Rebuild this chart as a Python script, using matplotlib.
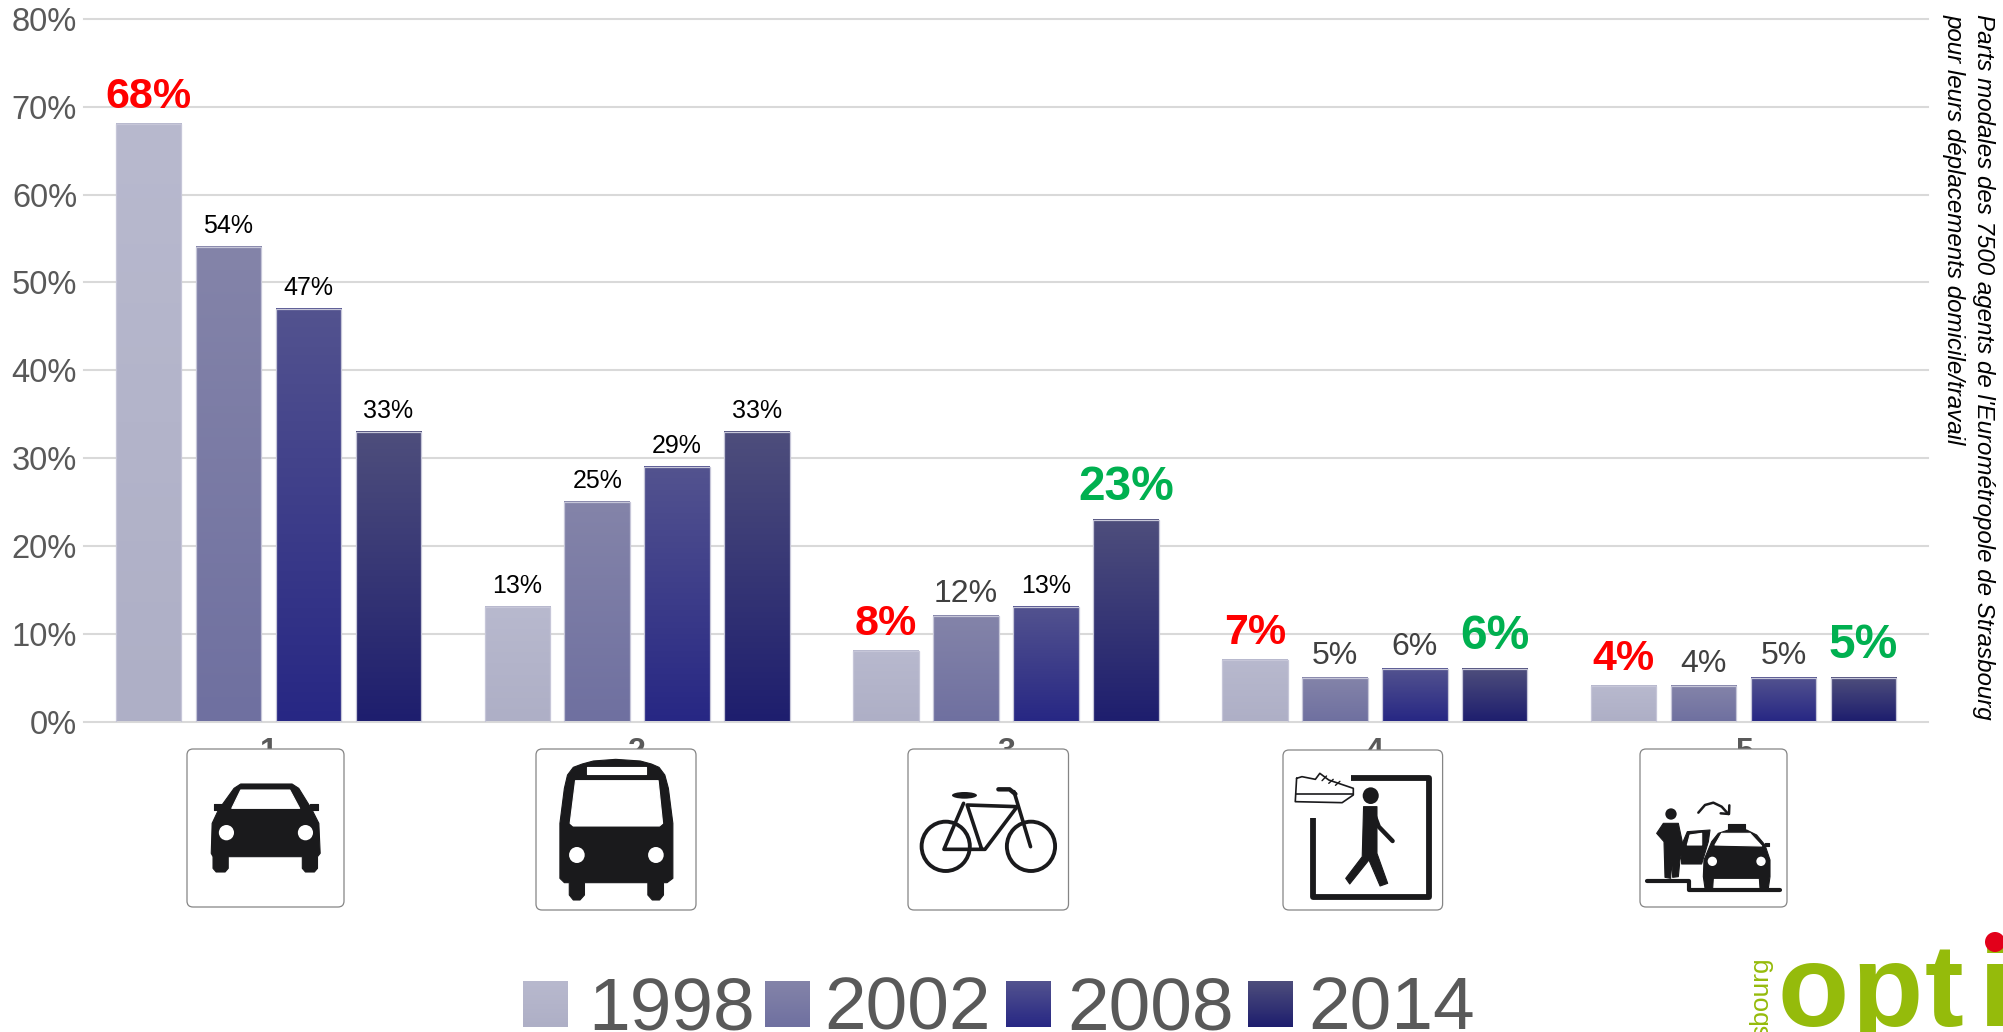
import matplotlib
matplotlib.use('Agg')
import matplotlib.pyplot as plt
import numpy as np
from matplotlib.colors import LinearSegmentedColormap
from matplotlib.patches import Polygon, Ellipse, FancyBboxPatch
from matplotlib.transforms import Affine2D

plt.rcParams['font.family'] = ['Liberation Sans', 'DejaVu Sans']

# data
categories = ['1', '2', '3', '4', '5']
years = ['1998', '2002', '2008', '2014']
v1998 = [68, 13, 8, 7, 4]
v2002 = [54, 25, 12, 5, 4]
v2008 = [47, 29, 13, 6, 5]
v2014 = [33, 33, 23, 6, 5]
series = [v1998, v2002, v2008, v2014]

# gradients top to bottom for each year
gradients = [
    ['#b8b9ce', '#aeafc6'],
    ['#8484a9', '#6f70a0'],
    ['#53538f', '#272784'],
    ['#4e4e7c', '#1e1e6e'],
]

# label style by (series, category): 's' small black, 'g' gray, 'r' red, 'v' green
label_styles = [
    ['r', 's', 'r', 'r', 'r'],
    ['s', 's', 'g', 'g', 'g'],
    ['s', 's', 's', 'g', 'g'],
    ['s', 's', 'v', 'v', 'v'],
]
styles = {
    's': dict(color='black', fontsize=18),
    'g': dict(color='#404040', fontsize=23),
    'r': dict(color='#ff0000', fontsize=31, fontweight='bold'),
    'v': dict(color='#00b050', fontsize=34.5, fontweight='bold'),
}
offsets = {'s': 14, 'g': 14, 'r': 16, 'v': 20}

W, H = 2003, 1032
fig = plt.figure(figsize=(W / 100, H / 100), dpi=100, facecolor='white')
ax = fig.add_axes([84 / W, 1 - 721.5 / H, (1928 - 84) / W, (721.5 - 19) / H])

x = np.arange(len(categories))
pitch = 80 / 369
width = 65.5 / 369


def grad_cmap(cols):
    return LinearSegmentedColormap.from_list('g', cols)


ramp = np.linspace(1, 0, 256).reshape(-1, 1)

for i, vals in enumerate(series):
    bars = ax.bar(x + (i - 1.5) * pitch, vals, width, facecolor='none',
                  edgecolor='#c6c6d8', linewidth=0.9, zorder=4)
    for b in bars:
        ax.imshow(ramp, cmap=grad_cmap([gradients[i][1], gradients[i][0]]), aspect='auto', zorder=3,
                  extent=[b.get_x(), b.get_x() + b.get_width(), 0, b.get_height()], vmin=0, vmax=1,
                  interpolation='nearest')
    for j, b in enumerate(bars):
        key = label_styles[i][j]
        ax.annotate(f'{vals[j]}%', (b.get_x() + b.get_width() / 2, vals[j]), xytext=(0, offsets[key] * 0.72),
                    textcoords='offset points', ha='center', va='baseline', zorder=5, **styles[key])

ax.set_xlim(-0.5, 4.5)
ax.set_ylim(0, 80)
ax.set_yticks(range(0, 81, 10))
ax.set_yticklabels([f'{t}%' for t in range(0, 81, 10)], fontsize=23.5, color='#595959')
ax.set_xticks(x)
ax.set_xticklabels(categories, fontsize=23, fontweight='bold', color='#595959')
ax.tick_params(axis='both', length=0)
ax.tick_params(axis='y', pad=5)
ax.tick_params(axis='x', pad=11)
ax.grid(axis='y', color='#d9d9d9', linewidth=1.5, clip_on=False)
ax.set_axisbelow(True)
for s in ax.spines.values():
    s.set_visible(False)
for gl in ax.get_ygridlines():
    gl.set_clip_on(False)

# overlay in pixel coords for pictograms, legend and logo
ov = fig.add_axes([0, 0, 1, 1], zorder=10)
ov.set_xlim(0, W)
ov.set_ylim(H, 0)
ov.axis('off')
ov.patch.set_alpha(0)

INK = '#1a1a1c'
t_a = Affine2D().scale(1 / 2.24, 1 / 3).translate(80, 660) + ov.transData
t_b = Affine2D().scale(1 / 2.24, 1 / 3).translate(860, 660) + ov.transData
t_c = Affine2D().scale(1 / 3, 1 / 3).translate(1600, 660) + ov.transData


def box(x0, y0, x1, y1):
    ov.add_patch(FancyBboxPatch((x0, y0), x1 - x0, y1 - y0, boxstyle='round,pad=0,rounding_size=6',
                                fc='white', ec='#858585', lw=0.9, zorder=2))


def poly(pts, tr, fc=INK, z=3):
    ov.add_patch(Polygon(pts, closed=True, fc=fc, ec=fc, lw=0.8, joinstyle='round', transform=tr, zorder=z))


def ell(cx, cy, w, h, tr, fc='white', ec='none', lw=0, z=4):
    ov.add_patch(Ellipse((cx, cy), w, h, fc=fc, ec=ec, lw=lw, transform=tr, zorder=z))


def line(pts, tr, lw=2.2, color=INK, z=3, cap='round'):
    p = np.array(pts)
    ov.plot(p[:, 0], p[:, 1], color=color, lw=lw, transform=tr, zorder=z, solid_capstyle=cap,
            solid_joinstyle='round')


# car
box(187, 749, 344, 907)
poly([(360, 372), (475, 372), (490, 385), (520, 450), (535, 490), (538, 580), (532, 590), (532, 625), (525, 636),
      (505, 636), (498, 625), (498, 590), (332, 590), (332, 625), (325, 636), (305, 636), (298, 625), (298, 590),
      (294, 580), (296, 490), (310, 450), (345, 385)], t_a)
poly([(340, 445), (360, 390), (470, 390), (492, 445)], t_a, 'white', 4)
poly([(300, 432), (318, 432), (318, 450), (300, 450)], t_a)
poly([(515, 432), (533, 432), (533, 450), (515, 450)], t_a)
ell(328, 518, 34, 46, t_a)
ell(505, 518, 34, 46, t_a)

# bus
box(536, 749, 696, 910)
poly([(1075, 490), (1085, 385), (1092, 345), (1105, 322), (1125, 312), (1150, 303), (1200, 298), (1255, 303),
      (1280, 312), (1297, 322), (1310, 345), (1318, 385), (1328, 490), (1328, 655), (1315, 668), (1307, 668),
      (1307, 705), (1298, 720), (1282, 720), (1272, 705), (1272, 668), (1130, 668), (1130, 705), (1120, 720),
      (1105, 720), (1096, 705), (1096, 668), (1085, 668), (1075, 655)], t_a)
poly([(1135, 322), (1268, 322), (1268, 343), (1135, 343)], t_a, 'white', 4)
poly([(1110, 362), (1295, 362), (1305, 490), (1298, 498), (1105, 498), (1098, 490)], t_a, 'white', 4)
ell(1113, 585, 35, 48, t_a)
ell(1290, 585, 35, 48, t_a)

# bike
box(908, 749, 1068.5, 910)
ell(192, 559, 108, 148, t_b, 'none', INK, 2.8, 3)
ell(383, 559, 108, 148, t_b, 'none', INK, 2.8, 3)
line([(232, 430), (188, 568), (280, 568), (352, 440), (240, 435), (272, 565)], t_b, 2.6)
line([(345, 395), (382, 560)], t_b, 2.6)
line([(310, 388), (335, 388), (348, 402)], t_b, 3.2)
ell(234, 406, 56, 20, t_b, INK, z=4)

# walker with shoe
box(1283, 750, 1442.6, 910)
line([(1015, 475), (1015, 710), (1275, 710), (1275, 355), (1100, 355)], t_b, 4.2, cap='butt')
ell(1144, 407, 36, 50, t_b, INK)
poly([(1128, 440), (1158, 440), (1158, 580), (1182, 670), (1165, 678), (1140, 600), (1097, 672), (1088, 655),
      (1125, 590)], t_b)
line([(1148, 450), (1162, 500), (1193, 543)], t_b, 3.2)
poly([(978, 355), (990, 350), (1020, 358), (1030, 340), (1050, 360), (1105, 385), (1105, 405), (1080, 425),
      (975, 425)], t_b, 'white')
line([(978, 355), (990, 350), (1020, 358), (1030, 340), (1050, 360), (1105, 385), (1105, 405), (1080, 428),
      (975, 425), (978, 355)], t_b, 1.2, z=4)
line([(977, 402), (1105, 402)], t_b, 1.2, z=4)
line([(1035, 362), (1045, 348)], t_b, 1.0, z=4)
line([(1050, 370), (1060, 358)], t_b, 1.0, z=4)
line([(1065, 376), (1075, 364)], t_b, 1.0, z=4)

# taxi
box(1640, 749, 1787, 907)
ell(213, 462, 34, 34, t_c, INK)
poly([(190, 490), (235, 490), (250, 560), (240, 600), (235, 650), (218, 652), (215, 600), (212, 655), (195, 652),
      (192, 545), (170, 520)], t_c)
line([(140, 662), (268, 662), (268, 690), (540, 690)], t_c, 3)
poly([(243, 560), (262, 515), (330, 510), (325, 545), (305, 612), (245, 612)], t_c)
poly([(262, 555), (270, 525), (305, 520), (305, 555)], t_c, 'white', 4)
poly([(385, 510), (440, 510), (470, 525), (495, 555), (510, 600), (510, 650), (505, 685), (480, 685), (478, 655),
      (340, 655), (338, 685), (315, 685), (310, 650), (312, 600), (335, 545), (355, 520)], t_c, INK, 5)
poly([(345, 555), (365, 520), (450, 520), (485, 558)], t_c, 'white', 6)
poly([(385, 493), (435, 493), (435, 510), (385, 510)], t_c, INK, 5)
poly([(495, 548), (508, 548), (508, 558), (495, 558)], t_c, INK, 5)
ell(337, 604, 28, 28, t_c, z=6)
ell(483, 604, 28, 28, t_c, z=6)
line([(295, 458), (315, 435), (340, 428), (365, 440), (385, 462)], t_c, 1.8)
line([(362, 460), (387, 462), (388, 436)], t_c, 1.8)

# legend
leg_squares = [523, 764.5, 1006, 1247.5]
leg_text = [591, 827, 1070, 1311]
for i, yr in enumerate(years):
    ov.imshow(ramp, cmap=grad_cmap([gradients[i][1], gradients[i][0]]), aspect='auto', zorder=3, vmin=0, vmax=1,
              extent=[leg_squares[i], leg_squares[i] + 45, 1027, 981], interpolation='nearest')
    ov.text(leg_text[i] - 3, 1029, yr, fontsize=54, color='#595959', ha='left', va='baseline', zorder=3)
ov.set_xlim(0, W)
ov.set_ylim(H, 0)

# side note
ov.text(1984, 14, "Parts modales des 7500 agents de l'Eurométropole de Strasbourg", rotation=-90, style='italic',
        fontsize=17.4, ha='center', va='top', color='black', rotation_mode='default')
ov.text(1954, 14, 'pour leurs déplacements domicile/travail', rotation=-90, style='italic',
        fontsize=17.4, ha='center', va='top', color='black', rotation_mode='default')

# logo, cut by the picture edge
GREEN = '#95bb0b'
for ch, lx in zip('opti', [1777, 1851, 1925, 1979]):
    ov.text(lx, 1026, ch, fontsize=84, fontweight='bold', color=GREEN, ha='left', va='baseline', zorder=3)
ell(1995, 942, 20, 20, ov.transData, '#e2001a')
ov.text(1761, 957, 'sbourg', rotation=90, fontsize=19, color=GREEN, ha='center', va='top')

fig.savefig('out.png', dpi=100, facecolor='white')
